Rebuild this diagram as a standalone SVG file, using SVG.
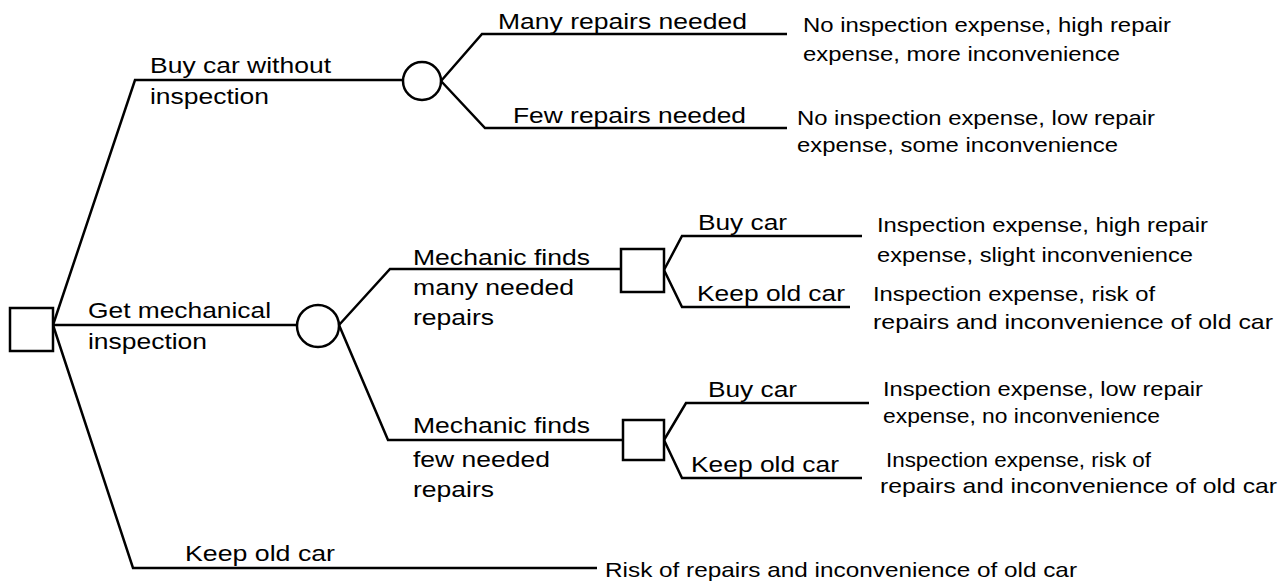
<svg xmlns="http://www.w3.org/2000/svg" width="1286" height="583" viewBox="0 0 1286 583">
<style>
.ln{fill:none;stroke:#000;stroke-width:2.5;stroke-linejoin:miter}
.nd{fill:#fff;stroke:#000;stroke-width:2.5}
text{font-family:"Liberation Sans",Arial,sans-serif;fill:#000}
.lb{font-size:22.5px}
.oc{font-size:21px}
</style>
<rect width="1286" height="583" fill="#fff"/>
<g id="connectors">
<polyline class="ln" points="53,325 135,80 403,80"/>
<line class="ln" x1="53" y1="325" x2="297" y2="325"/>
<polyline class="ln" points="53,325 133,568 597,568"/>
<polyline class="ln" points="441,81 482,34 787,34"/>
<polyline class="ln" points="441,81 485,128 787,128"/>
<polyline class="ln" points="339,325 390,269 621,269"/>
<polyline class="ln" points="339,325 388,440 623,440"/>
<polyline class="ln" points="664,270 682,236 862,236"/>
<polyline class="ln" points="664,270 682,307 850,307"/>
<polyline class="ln" points="664,440 686,403 869,403"/>
<polyline class="ln" points="664,440 682,478 862,478"/>
</g>
<g id="root"><rect class="nd" x="10" y="308" width="43" height="43"/></g>
<g id="chance1"><circle class="nd" cx="422" cy="81" r="19"/></g>
<g id="chance2"><circle class="nd" cx="318" cy="326" r="21"/></g>
<g id="decision1"><rect class="nd" x="621" y="249" width="43" height="43"/></g>
<g id="decision2"><rect class="nd" x="623" y="420" width="41" height="40"/></g>
<g id="labels">
<text class="lb" x="150" y="73" textLength="181" lengthAdjust="spacingAndGlyphs">Buy car without</text>
<text class="lb" x="150" y="104" textLength="119" lengthAdjust="spacingAndGlyphs">inspection</text>
<text class="lb" x="88" y="318" textLength="183" lengthAdjust="spacingAndGlyphs">Get mechanical</text>
<text class="lb" x="88" y="349" textLength="119" lengthAdjust="spacingAndGlyphs">inspection</text>
<text class="lb" x="185" y="561" textLength="150" lengthAdjust="spacingAndGlyphs">Keep old car</text>
<text class="lb" x="498" y="29" textLength="249" lengthAdjust="spacingAndGlyphs">Many repairs needed</text>
<text class="lb" x="513" y="123" textLength="233" lengthAdjust="spacingAndGlyphs">Few repairs needed</text>
<text class="lb" x="413" y="265" textLength="177" lengthAdjust="spacingAndGlyphs">Mechanic finds</text>
<text class="lb" x="413" y="295" textLength="161" lengthAdjust="spacingAndGlyphs">many needed</text>
<text class="lb" x="413" y="325" textLength="81" lengthAdjust="spacingAndGlyphs">repairs</text>
<text class="lb" x="413" y="433" textLength="177" lengthAdjust="spacingAndGlyphs">Mechanic finds</text>
<text class="lb" x="413" y="467" textLength="137" lengthAdjust="spacingAndGlyphs">few needed</text>
<text class="lb" x="413" y="497" textLength="81" lengthAdjust="spacingAndGlyphs">repairs</text>
<text class="lb" x="698" y="230" textLength="89" lengthAdjust="spacingAndGlyphs">Buy car</text>
<text class="lb" x="697" y="301" textLength="148" lengthAdjust="spacingAndGlyphs">Keep old car</text>
<text class="lb" x="708" y="397" textLength="89" lengthAdjust="spacingAndGlyphs">Buy car</text>
<text class="lb" x="691" y="472" textLength="148" lengthAdjust="spacingAndGlyphs">Keep old car</text>
</g>
<g id="outcomes">
<text class="oc" x="803" y="32" textLength="368" lengthAdjust="spacingAndGlyphs">No inspection expense, high repair</text>
<text class="oc" x="803" y="61" textLength="317" lengthAdjust="spacingAndGlyphs">expense, more inconvenience</text>
<text class="oc" x="797" y="125" textLength="358" lengthAdjust="spacingAndGlyphs">No inspection expense, low repair</text>
<text class="oc" x="797" y="152" textLength="321" lengthAdjust="spacingAndGlyphs">expense, some inconvenience</text>
<text class="oc" x="877" y="232" textLength="331" lengthAdjust="spacingAndGlyphs">Inspection expense, high repair</text>
<text class="oc" x="877" y="262" textLength="316" lengthAdjust="spacingAndGlyphs">expense, slight inconvenience</text>
<text class="oc" x="873" y="301" textLength="282" lengthAdjust="spacingAndGlyphs">Inspection expense, risk of</text>
<text class="oc" x="873" y="329" textLength="400" lengthAdjust="spacingAndGlyphs">repairs and inconvenience of old car</text>
<text class="oc" x="883" y="396" textLength="320" lengthAdjust="spacingAndGlyphs">Inspection expense, low repair</text>
<text class="oc" x="883" y="423" textLength="277" lengthAdjust="spacingAndGlyphs">expense, no inconvenience</text>
<text class="oc" x="886" y="467" textLength="265" lengthAdjust="spacingAndGlyphs">Inspection expense, risk of</text>
<text class="oc" x="880" y="493" textLength="397" lengthAdjust="spacingAndGlyphs">repairs and inconvenience of old car</text>
<text class="oc" x="605" y="577" textLength="472" lengthAdjust="spacingAndGlyphs">Risk of repairs and inconvenience of old car</text>
</g>
</svg>
